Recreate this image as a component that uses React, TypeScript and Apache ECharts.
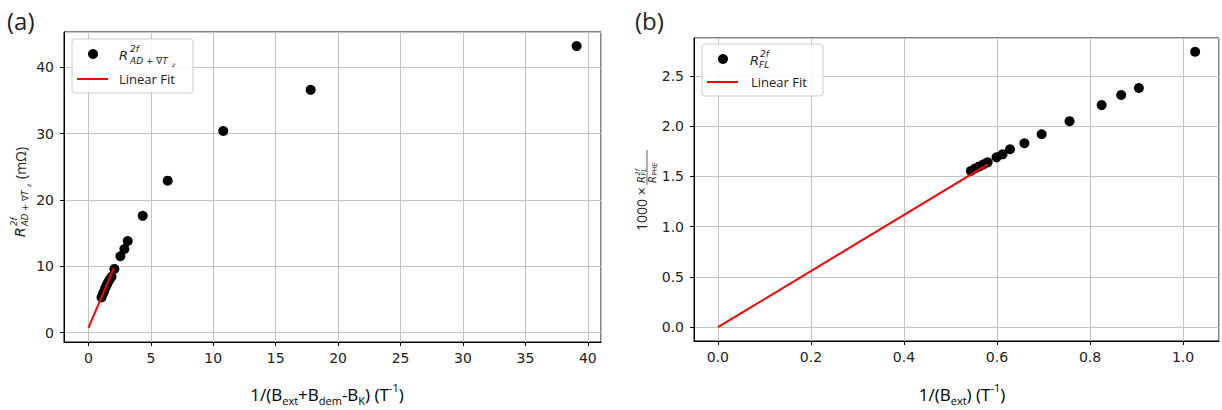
import React, { useEffect, useRef } from "react";
import * as echarts from "echarts";

// Panel (a)
const aX = [1.05, 1.15, 1.25, 1.35, 1.45, 1.55, 1.7, 1.85, 2.08, 2.56, 2.88, 3.15, 4.35, 6.35, 10.8, 17.8, 39.1];
const aY = [5.3, 5.8, 6.2, 6.7, 7.1, 7.5, 8.0, 8.4, 9.6, 11.5, 12.6, 13.8, 17.6, 22.9, 30.4, 36.6, 43.2];
const aFitX = [0, 2.03];
const aFitY = [0.7, 9.7];

// Panel (b)
const bX = [0.544, 0.553, 0.562, 0.571, 0.58, 0.599, 0.612, 0.628, 0.659, 0.696, 0.756, 0.825, 0.867, 0.905, 1.026];
const bY = [1.555, 1.58, 1.6, 1.62, 1.64, 1.69, 1.72, 1.77, 1.83, 1.92, 2.05, 2.21, 2.31, 2.38, 2.74];
const bFitX = [0, 0.58];
const bFitY = [0, 1.62];

const zip = (xs: number[], ys: number[]) => xs.map((x, i) => [x, ys[i]]);

const TICK_FONT = "DejaVu Sans";
const TITLE_FONT = "Open Sans";
const TXT = "#222";

const axisBase = (gridIndex: number, min: number, max: number, splitNumber: number, fmt: (v: number) => string, margin: number) => ({
  type: "value",
  gridIndex,
  min,
  max,
  splitNumber,
  axisLine: { show: true, onZero: false, lineStyle: { color: "#000", width: 1 } },
  axisTick: { show: true, length: 4, lineStyle: { color: "#000", width: 1 } },
  axisLabel: {
    color: TXT,
    fontFamily: TICK_FONT,
    fontSize: 14,
    margin,
    showMinLabel: false,
    showMaxLabel: false,
    formatter: fmt,
  },
  splitLine: { show: true, lineStyle: { color: "#c4c4c4", width: 1 } },
});

const t = (x: number, y: number, text: string, fontSize: number, extra: any = {}) => ({
  type: "text",
  x,
  y,
  z: 100,
  style: {
    text,
    fontSize,
    fontFamily: extra.fontFamily || TITLE_FONT,
    fontStyle: extra.italic ? "italic" : "normal",
    fill: TXT,
    align: extra.align || "left",
    verticalAlign: "middle",
  },
});

const titleRich = {
  n: { fontSize: 17, fontFamily: TITLE_FONT, color: TXT, lineHeight: 24 },
  sub: { fontSize: 11, fontFamily: TITLE_FONT, color: TXT, lineHeight: 13, verticalAlign: "bottom" },
  sup: { fontSize: 11, fontFamily: TITLE_FONT, color: TXT, lineHeight: 13, verticalAlign: "top" },
};

const M = { italic: true, fontFamily: "DejaVu Sans" };

export default function App() {
  const ref = useRef<HTMLDivElement>(null);
  useEffect(() => {
    document.body.style.margin = "0";
    const chart = echarts.init(ref.current!, null, { renderer: "svg" });
    const option: any = {
      animation: false,
      backgroundColor: "#fff",
      grid: [
        { left: 64, top: 32, width: 537, height: 310, show: true, borderColor: "#000", borderWidth: 1, backgroundColor: "transparent" },
        { left: 694, top: 38, width: 525, height: 303, show: true, borderColor: "#000", borderWidth: 1, backgroundColor: "transparent" },
      ],
      xAxis: [
        axisBase(0, -1.955, 41.055, 9, (v) => String(Math.round(v)), 9),
        axisBase(1, -0.0513, 1.0773, 6, (v) => v.toFixed(1), 9),
      ],
      yAxis: [
        axisBase(0, -1.425, 45.325, 5, (v) => String(Math.round(v)), 10),
        axisBase(1, -0.137, 2.877, 6, (v) => v.toFixed(1), 10),
      ],
      series: [
        { type: "scatter", xAxisIndex: 0, yAxisIndex: 0, data: zip(aX, aY), symbolSize: 10, itemStyle: { color: "#000", opacity: 1 }, z: 3 },
        { type: "line", xAxisIndex: 0, yAxisIndex: 0, data: zip(aFitX, aFitY), showSymbol: false, lineStyle: { color: "#ff0000", width: 2 }, z: 4 },
        { type: "scatter", xAxisIndex: 1, yAxisIndex: 1, data: zip(bX, bY), symbolSize: 10, itemStyle: { color: "#000", opacity: 1 }, z: 3 },
        { type: "line", xAxisIndex: 1, yAxisIndex: 1, data: zip(bFitX, bFitY), showSymbol: false, lineStyle: { color: "#ff0000", width: 2 }, z: 4 },
      ],
      graphic: [
        // panel letters
        t(7, 20, "(a)", 24),
        t(635, 20, "(b)", 24),
        // x titles
        {
          type: "text", x: 327, y: 394, z: 100,
          style: {
            text: "{n|1/(B}{sub|ext}{n|+B}{sub|dem}{n|-B}{sub|K}{n|) (T}{sup|-1}{n|)}",
            rich: titleRich, align: "center", verticalAlign: "middle",
          },
        },
        {
          type: "text", x: 962, y: 394, z: 100,
          style: {
            text: "{n|1/(B}{sub|ext}{n|) (T}{sup|-1}{n|)}",
            rich: titleRich, align: "center", verticalAlign: "middle",
          },
        },
        // y title (a)
        {
          type: "group", x: 20, y: 188, rotation: Math.PI / 2,
          children: [
            t(-49, 0, "R", 14, M),
            t(-38, -6, "2f", 8.5, M),
            t(-38, 5, "AD + ∇T", 8.5, M),
            t(1, 8, "z", 6, M),
            t(9, 0, "(mΩ)", 14),
          ],
        },
        // y title (b)
        {
          type: "group", x: 641, y: 190, rotation: Math.PI / 2,
          children: [
            t(-41, 0, "1000 ×", 14),
            t(7, 0, "R", 10, M),
            t(14.5, -3, "2f", 6.5, M),
            t(14.5, 3, "FL", 6.5, M),
            { type: "line", z: 100, shape: { x1: 5, y1: 6, x2: 40, y2: 6 }, style: { stroke: TXT, lineWidth: 0.7 } },
            t(7, 11.5, "R", 10, M),
            t(14.5, 13.5, "PHE", 6.5, M),
          ],
        },
        // legend (a)
        { type: "rect", z: 90, shape: { x: 72, y: 39, width: 121, height: 54, r: 3 }, style: { fill: "rgba(255,255,255,0.85)", stroke: "#cccccc", lineWidth: 1 } },
        { type: "circle", z: 100, shape: { cx: 93, cy: 54, r: 5 }, style: { fill: "#000" } },
        { type: "line", z: 100, shape: { x1: 77, y1: 79, x2: 108, y2: 79 }, style: { stroke: "#ff0000", lineWidth: 2 } },
        t(119, 55, "R", 13, M),
        t(130, 49, "2f", 9, M),
        t(130, 61, "AD + ∇T", 9, M),
        t(172, 64, "z", 6, M),
        t(119, 79, "Linear Fit", 13),
        // legend (b)
        { type: "rect", z: 90, shape: { x: 702, y: 44, width: 121, height: 52, r: 3 }, style: { fill: "rgba(255,255,255,0.85)", stroke: "#cccccc", lineWidth: 1 } },
        { type: "circle", z: 100, shape: { cx: 723, cy: 59, r: 5 }, style: { fill: "#000" } },
        { type: "line", z: 100, shape: { x1: 707, y1: 82, x2: 738, y2: 82 }, style: { stroke: "#ff0000", lineWidth: 2 } },
        t(750, 60, "R", 13, M),
        t(760, 54, "2f", 9, M),
        t(759, 65, "FL", 9, M),
        t(751, 82, "Linear Fit", 13),
      ],
    };
    chart.setOption(option);
    return () => chart.dispose();
  }, []);
  return <div ref={ref} style={{ width: 1222, height: 410 }} />;
}
